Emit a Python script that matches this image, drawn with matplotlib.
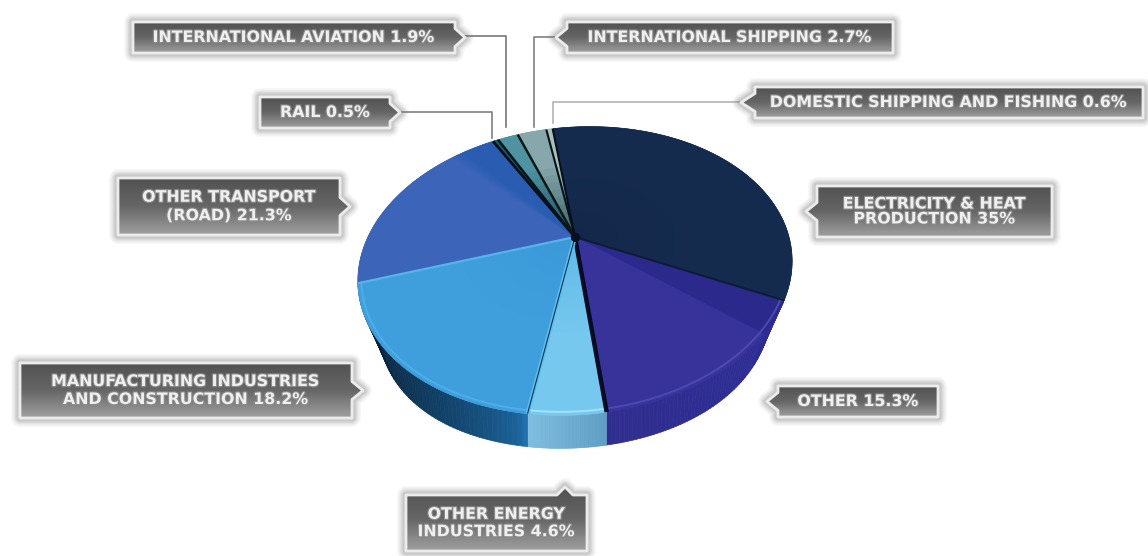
import numpy as np
import matplotlib
matplotlib.use("Agg")
import matplotlib.pyplot as plt
import matplotlib.patheffects as pe
from matplotlib.collections import PolyCollection
from matplotlib.colors import to_rgb
from matplotlib.patches import PathPatch, Polygon
from matplotlib.path import Path

# Emission shares, clockwise from the top of the pie
sectores = ["ELECTRICITY & HEAT\nPRODUCTION", "OTHER", "OTHER ENERGY\nINDUSTRIES",
            "MANUFACTURING INDUSTRIES\nAND CONSTRUCTION", "OTHER TRANSPORT\n(ROAD)", "RAIL",
            "INTERNATIONAL AVIATION", "INTERNATIONAL SHIPPING", "DOMESTIC SHIPPING AND FISHING"]
valores = [35, 15.3, 4.6, 18.2, 21.3, 0.5, 1.9, 2.7, 0.6]
textos_valor = ["35%", "15.3%", "4.6%", "18.2%", "21.3%", "0.5%", "1.9%", "2.7%", "0.6%"]

# inner colour, outer colour of each top face
caras = [("#13274a", "#152b4e"), ("#2b2a8c", "#38339a"), ("#5cb8e6", "#76c8ee"),
         ("#3a98d8", "#3f9fdc"), ("#2a5db2", "#3c64b8"), ("#0c3a44", "#1d5a68"),
         ("#1c4a5c", "#4f92a2"), ("#3a5f68", "#86a8ac"), ("#5a7a70", "#a8c0b8")]
# line at the start of each slice
bordes = ["#06101c", "#0d1c36", "#070b24", "#5cc0ee", "#56b4ea", "#05101a", "#05141c", "#0a1a14", "#06101c"]
anchos = [1.5, 1.4, 3.2, 3.0, 1.6, 2.0, 1.8, 1.8, 1.5]
# side colours along the rim, for the slices that show a side
lados = {1: ("#2c2c96", "#302e8e"), 2: ("#5e9dc4", "#7cbde0"), 3: ("#1f70ae", "#06182a")}
bisel = {1: "#4c4ab0", 2: "#a4e2f8", 3: "#4eaee8"}

CX, CY = 575, 237
ANCHO, ALTO, K, INCLINA = 211, 136, 0.236, 0.045
GROSOR = 33
INICIO = -7.5


def proyectar(ang, r=1.0, abajo=False):
    # disc in perspective, angle in degrees clockwise from the top
    a = np.radians(ang)
    u, v = r * np.sin(a), -r * np.cos(a)
    den = 1 - K * v
    x = ANCHO * u / den
    y = ALTO * v / den - INCLINA * x
    if abajo:
        x = x * (0.90 + 0.10 * v ** 2)
        y = y + GROSOR
    return CX + x, CY + y


def mezcla(c1, c2, t):
    c1, c2 = np.array(to_rgb(c1)), np.array(to_rgb(c2))
    return tuple(c1 + (c2 - c1) * t)


fig = plt.figure(figsize=(11.48, 5.56), dpi=100)
ax = fig.add_axes([0, 0, 1, 1])
ax.set_xlim(0, 1148)
ax.set_ylim(556, 0)
ax.axis("off")

fracciones = np.array(valores) / sum(valores)
limites = INICIO + 360 * np.concatenate([[0], np.cumsum(fracciones)])

# Sides first, the top faces cover whatever is hidden
for i, (c1, c2) in lados.items():
    angs = np.linspace(limites[i], limites[i + 1], 60)
    quads, cols = [], []
    for j in range(len(angs) - 1):
        x0, y0 = proyectar(angs[j])
        x1, y1 = proyectar(angs[j + 1])
        x2, y2 = proyectar(angs[j + 1], abajo=True)
        x3, y3 = proyectar(angs[j], abajo=True)
        quads.append([(x0, y0), (x1, y1), (x2, y2), (x3, y3)])
        t = j / (len(angs) - 2)
        cols.append(mezcla(c1, c2, t ** 0.55 if i == 3 else t))
    ax.add_collection(PolyCollection(quads, facecolors=cols, edgecolors=cols, linewidths=0.5, zorder=2))

# Top faces, shaded from the centre to the rim
for i, (c1, c2) in enumerate(caras):
    radios = np.linspace(0, 1, 16)
    angs = np.linspace(limites[i], limites[i + 1], max(6, int(valores[i] * 3)))
    borde_x, borde_y = proyectar(angs)
    ax.add_patch(Polygon(np.column_stack([np.r_[CX, borde_x], np.r_[CY, borde_y]]), fc=c2, ec=c2, lw=0.5, zorder=3))
    quads, cols = [], []
    for a in range(len(angs) - 1):
        t_ang = (a + 0.5) / (len(angs) - 1)
        for b in range(len(radios) - 1):
            r0, r1 = radios[b], radios[b + 1]
            xa, ya = proyectar(angs[a], r0)
            xb, yb = proyectar(angs[a + 1], r0)
            xc, yc = proyectar(angs[a + 1], r1)
            xd, yd = proyectar(angs[a], r1)
            quads.append([(xa, ya), (xb, yb), (xc, yc), (xd, yd)])
            col = mezcla(c1, c2, min(1, r1 * 1.5))
            if i == 1:
                col = c1 if t_ang < 0.22 else c2
            if i == 4:
                col = mezcla(c2, c1, np.clip((t_ang - 0.80) / 0.06, 0, 1))
            cols.append(col)
    ax.add_collection(PolyCollection(quads, facecolors=cols, edgecolors=cols, linewidths=0.3, zorder=3))

# Thin light edge along the front of the top face
for i, color in bisel.items():
    angs = np.linspace(limites[i], limites[i + 1], 40)
    bx, by = proyectar(angs, 0.985)
    ax.plot(bx, by, color=color, lw=1.4, zorder=3.5)

# Lines between the slices
for i, color in enumerate(bordes):
    x1, y1 = proyectar(limites[i])
    ax.plot([CX, x1], [CY, y1], color=color, lw=anchos[i], zorder=4, solid_capstyle="butt")
    if i == 3:
        ax.plot([CX, x1], [CY, y1], color="#123050", lw=0.8, zorder=4.1, solid_capstyle="butt")
ax.scatter([CX], [CY], s=45, color="#0a0f1e", zorder=5, linewidths=0)

# Guide lines of the small slices
guias = [([465, 506, 506], [36, 36, 127], "#777777"),
         ([400, 492, 492], [112, 112, 138], "#808080"),
         ([556, 534, 534], [37, 37, 127], "#808080"),
         ([741, 553, 553], [102, 102, 123], "#b4b4b4")]
for gx, gy, color in guias:
    ax.plot(gx, gy, color=color, lw=1.2, zorder=1)


def forma_etiqueta(x0, x1, y0, y1, lado, punta):
    # rectangle with a small pointer on one of its sides
    if lado == "r":
        ym = (y0 + y1) / 2
        pts = [(x0, y0), (x1, y0), (x1, ym - 9), (punta, ym), (x1, ym + 9), (x1, y1), (x0, y1)]
    elif lado == "l":
        ym = (y0 + y1) / 2
        pts = [(x1, y0), (x1, y1), (x0, y1), (x0, ym + 9), (punta, ym), (x0, ym - 9), (x0, y0)]
    else:
        pts = [(x0, y1), (x0, y0), (punta - 8, y0), (punta, y0 - 8), (punta + 8, y0), (x1, y0), (x1, y1)]
    return Path(pts + [pts[0]], closed=True)


# x0, x1, y0, y1, pointer side, pointer tip, line spacing
cajas = [(817, 1052, 186, 237, "l", 806, 1.0),
         (778, 938, 386, 417, "l", 767, 1.0),
         (406, 587, 495, 551, "t", 565, 1.2),
         (20, 352, 363, 418, "r", 363, 1.25),
         (118, 340, 178, 235, "r", 350, 1.3),
         (260, 390, 97, 128, "r", 400, 1.0),
         (133, 455, 22, 53, "r", 465, 1.0),
         (567, 893, 22, 53, "l", 556, 1.0),
         (755, 1143, 87, 118, "l", 741, 1.0)]

degradado = np.linspace(0, 1, 64).reshape(-1, 1)
mapa = matplotlib.colors.LinearSegmentedColormap.from_list("caja", ["#525252", "#666666", "#a0a0a0"])

for nombre, valor, (x0, x1, y0, y1, lado, punta, interlinea) in zip(sectores, textos_valor, cajas):
    forma = forma_etiqueta(x0, x1, y0, y1, lado, punta)
    # soft glow around the box
    for lw, alpha in [(13, 0.05), (11, 0.07), (9, 0.09), (7, 0.12), (5, 0.15)]:
        ax.add_patch(PathPatch(forma, fc="none", ec="#7c7c7c", lw=lw, alpha=alpha, joinstyle="round", zorder=6))
    img = ax.imshow(degradado, extent=[min(x0, punta), max(x1, punta), y1, y0 - 8 if lado == "t" else y0],
                    aspect="auto", cmap=mapa, zorder=7)
    img.set_clip_path(PathPatch(forma, transform=ax.transData))
    ax.add_patch(PathPatch(forma, fc="none", ec="#ececec", lw=2.0, joinstyle="round", zorder=8))
    cx = (x0 + x1) / 2
    ax.text(cx, (y0 + y1) / 2, nombre + " " + valor, color="#efefef", fontsize=11.4, fontweight="bold",
            family="DejaVu Sans", ha="center", va="center", linespacing=interlinea, zorder=9,
            path_effects=[pe.withStroke(linewidth=1.6, foreground="#8a8a8a")])

ax.set_xlim(0, 1148)
ax.set_ylim(556, 0)
fig.savefig("out.png", dpi=100, facecolor="white")
